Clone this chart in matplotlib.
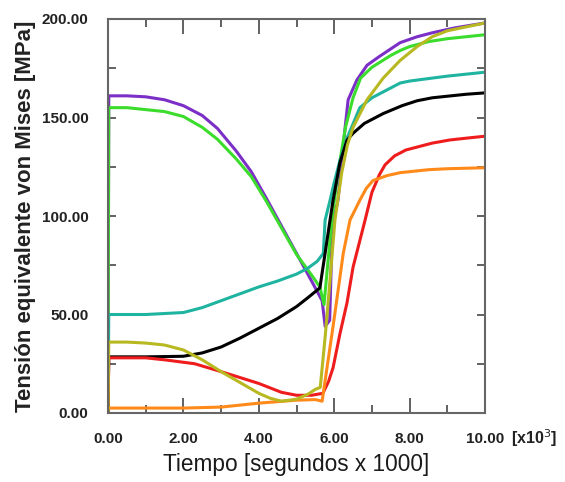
import matplotlib
matplotlib.use("Agg")
import matplotlib.pyplot as plt
from matplotlib.ticker import MultipleLocator, FormatStrFormatter

# Tiempo [x1000 s] and Von Mises stress [MPa] per curve
t_purple = [0, 0.02, 0.5, 1.0, 1.5, 2.0, 2.5, 2.9, 3.4, 3.8, 4.2, 4.6, 5.0, 5.4, 5.68, 5.76, 5.88,
            5.95, 6.1, 6.29, 6.37, 6.6, 6.87, 7.2, 7.75, 8.2, 8.6, 9.2, 10.0]
y_purple = [0, 161, 161, 160.5, 159, 156, 151, 144.5, 133, 122.5, 109, 95, 81, 67, 57, 44, 47,
            95, 108, 145, 159, 169, 176.5, 181, 188, 191, 193, 195.5, 198]

t_green = [0, 0.02, 0.5, 1.0, 1.5, 2.0, 2.5, 2.9, 3.4, 3.8, 4.2, 4.6, 5.0, 5.4, 5.62, 5.73,
           5.85, 5.95, 6.1, 6.3, 6.5, 6.7, 7.0, 7.5, 7.75, 8.0, 8.5, 9.0, 9.5, 10.0]
y_green = [0, 155, 155, 154, 153, 150.5, 145, 139, 129, 120, 107.5, 94, 80.5, 70, 64, 55,
           80, 100, 122, 145, 160, 170, 175.5, 181.5, 184, 186, 188.5, 190, 191, 192]

t_teal = [0, 0.02, 1.0, 2.0, 2.5, 3.0, 3.5, 4.0, 4.5, 5.0, 5.3, 5.55, 5.71, 5.76, 5.89, 6.0,
          6.15, 6.35, 6.68, 7.0, 7.5, 7.75, 8.0, 8.6, 9.0, 9.5, 10.0]
y_teal = [0, 50, 50, 51, 53.5, 57, 60.5, 64, 67, 70.5, 73.5, 77, 81, 98, 108, 117,
          128, 140, 155, 160, 165, 167.5, 168.5, 170, 171, 172, 173]

t_black = [0, 0.02, 1.0, 2.0, 2.5, 3.0, 3.5, 4.0, 4.5, 5.0, 5.3, 5.62, 5.75, 5.89, 5.97,
           6.15, 6.34, 6.5, 6.8, 7.3, 7.8, 8.2, 8.6, 9.0, 9.5, 10.0]
y_black = [0, 28.5, 28.5, 28.8, 30.5, 33.5, 38, 43, 48, 54, 58.5, 63.5, 80, 98, 108,
           127, 138.5, 142, 147, 152, 156, 158.5, 160, 160.8, 161.8, 162.5]

t_olive = [0, 0.02, 0.5, 1.0, 1.5, 2.0, 2.5, 3.0, 3.5, 4.0, 4.3, 4.6, 5.0, 5.3, 5.5, 5.63,
           5.76, 5.9, 6.02, 6.2, 6.35, 6.5, 6.87, 7.3, 7.75, 8.2, 8.6, 9.0, 9.5, 10.0]
y_olive = [0, 36, 36, 35.5, 34.5, 32, 27, 21, 15.5, 10, 7.5, 6, 7, 9.5, 12, 13,
           38.6, 70, 98, 122, 136, 145, 159, 170, 179, 186, 191, 194, 196, 198]

t_red = [0, 0.02, 1.0, 1.5, 2.3, 3.0, 3.5, 4.0, 4.6, 5.0, 5.4, 5.7, 5.85, 5.97, 6.15, 6.34,
         6.5, 6.82, 7.0, 7.2, 7.35, 7.6, 7.9, 8.2, 8.6, 9.07, 9.5, 10.0]
y_red = [0, 28, 28, 27, 25, 21, 18, 15, 10.5, 9, 9, 10, 16, 23, 40, 56,
         74, 98, 112, 121, 126, 130.5, 133.5, 135, 137, 138.6, 139.5, 140.5]

t_orange = [0, 1.0, 2.0, 3.0, 4.0, 5.0, 5.5, 5.68, 5.97, 6.24, 6.42, 6.68, 6.85, 7.03, 7.4,
            7.75, 8.5, 9.0, 10.0]
y_orange = [2.5, 2.5, 2.5, 3, 5, 6.5, 6.8, 6, 44, 81, 98, 108, 114, 118, 120.5,
            122, 123.5, 124, 124.5]

series = [
    (t_purple, y_purple, "#7b2fc6"),
    (t_green, y_green, "#3cdc2c"),
    (t_teal, y_teal, "#1fb4a0"),
    (t_black, y_black, "#000000"),
    (t_red, y_red, "#ee1c1c"),
    (t_orange, y_orange, "#ff8a1a"),
    (t_olive, y_olive, "#b8b820"),
]

plt.rcParams['font.family'] = ['Liberation Sans', 'DejaVu Sans']

fig = plt.figure(figsize=(5.65, 4.82), dpi=100)
ax = fig.add_axes([108 / 565, 1 - 413 / 482, 377 / 565, 394 / 482])

for t, y, c in series:
    ax.plot(t, y, color=c, lw=2.2, solid_joinstyle='round')

ax.set_xlim(0, 10)
ax.set_ylim(0, 200)
ax.xaxis.set_major_locator(MultipleLocator(2))
ax.xaxis.set_minor_locator(MultipleLocator(1))
ax.yaxis.set_major_locator(MultipleLocator(50))
ax.yaxis.set_minor_locator(MultipleLocator(25))
ax.xaxis.set_major_formatter(FormatStrFormatter('%.2f'))
ax.yaxis.set_major_formatter(FormatStrFormatter('%.2f'))

ax.tick_params(axis='x', which='major', direction='in', top=True, length=11, width=1.3,
               color='#555555', pad=14, labelsize=11)
ax.tick_params(axis='x', which='minor', direction='in', top=True, length=5.5, width=1.3,
               color='#555555')
ax.tick_params(axis='y', which='both', direction='in', right=True, length=6, width=1.3,
               color='#555555', pad=14, labelsize=11)
for lab in ax.get_xticklabels() + ax.get_yticklabels():
    lab.set_fontweight('bold')
    lab.set_color('#222222')

for s in ax.spines.values():
    s.set_color('#666666')
    s.set_linewidth(1.5)

ax.set_xlabel('Tiempo [segundos x 1000]', fontsize=16.3, color='#1a1a1a', labelpad=5)
ax.set_ylabel('Tensión equivalente von Mises [MPa]', fontsize=16, fontweight='bold',
              color='#222222', labelpad=4)

fig.text(511 / 565, 1 - 438 / 482, r'[x10$^3$]', fontsize=11.5, fontweight='bold',
         color='#222222', va='center', ha='left')

fig.savefig('out.png', dpi=100)
